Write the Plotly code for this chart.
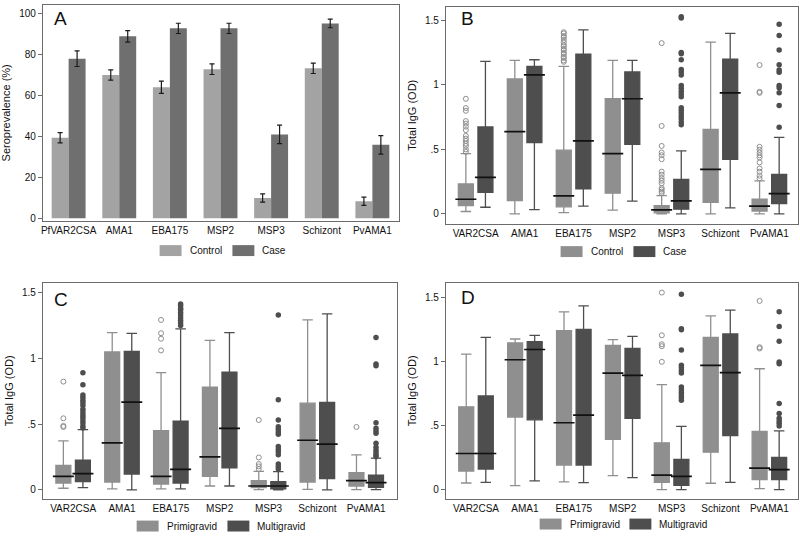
import plotly.graph_objects as go

W, H = 800, 537

# ---------------- data ----------------
antigens_A = ["PfVAR2CSA", "AMA1", "EBA175", "MSP2", "MSP3", "Schizont", "PvAMA1"]
antigens = ["VAR2CSA", "AMA1", "EBA175", "MSP2", "MSP3", "Schizont", "PvAMA1"]

# Panel A: seroprevalence (%) with 95% CI half-width
sero_control = [39.3, 69.9, 63.9, 72.7, 9.9, 73.1, 8.3]
sero_control_err = [2.5, 2.5, 3.0, 2.6, 2.0, 2.5, 2.0]
sero_case = [77.8, 88.7, 92.6, 92.6, 40.9, 95.0, 35.8]
sero_case_err = [3.8, 2.8, 2.5, 2.5, 4.5, 2.1, 4.5]

# Panel B: Control vs Case (Total IgG OD)
b_ctrl_lo = [0.018, 0.0, 0.010, 0.028, 0.0, 0.0, 0.0]
b_ctrl_q1 = [0.064, 0.103, 0.054, 0.160, 0.008, 0.090, 0.021]
b_ctrl_med = [0.113, 0.638, 0.139, 0.468, 0.031, 0.345, 0.059]
b_ctrl_q3 = [0.232, 1.047, 0.494, 0.893, 0.064, 0.656, 0.113]
b_ctrl_hi = [0.468, 1.191, 1.145, 1.191, 0.141, 1.333, 0.255]
b_ctrl_out = [
    [0.893, 0.821, 0.80, 0.72, 0.70, 0.677, 0.65, 0.605, 0.584, 0.566, 0.545, 0.527, 0.50, 0.481],
    [],
    [1.41, 1.40, 1.38, 1.37, 1.35, 1.33, 1.31, 1.30, 1.28, 1.27, 1.25, 1.24, 1.22, 1.21, 1.19, 1.18],
    [],
    [1.325, 0.682, 0.527, 0.476, 0.455, 0.424, 0.327, 0.304, 0.278, 0.257, 0.237, 0.20, 0.188, 0.172, 0.16],
    [],
    [1.155, 0.947, 0.939, 0.52, 0.497, 0.476, 0.455, 0.437, 0.399, 0.352, 0.327, 0.296, 0.275],
]
b_case_lo = [0.051, 0.033, 0.059, 0.098, 0.0, 0.046, 0.0]
b_case_q1 = [0.167, 0.553, 0.193, 0.540, 0.036, 0.422, 0.080]
b_case_med = [0.283, 1.078, 0.566, 0.893, 0.100, 0.939, 0.157]
b_case_q3 = [0.674, 1.145, 1.240, 1.101, 0.268, 1.201, 0.306]
b_case_hi = [1.183, 1.196, 1.428, 1.191, 0.489, 1.400, 0.594]
b_case_out = [
    [], [], [], [],
    [1.53, 1.52, 1.253, 1.243, 1.196, 1.12, 1.10, 1.078, 0.996, 0.975, 0.952, 0.931, 0.908,
     0.823, 0.803, 0.782, 0.759, 0.738, 0.713, 0.692],
    [],
    [1.472, 1.384, 1.271, 1.158, 1.117, 1.099, 0.996, 0.978, 0.939, 0.841, 0.671],
]

# Panel C: Primigravid vs Multigravid (controls)
c_pri_lo = [0.013, 0.008, 0.008, 0.030, 0.003, 0.005, 0.003]
c_pri_q1 = [0.053, 0.060, 0.045, 0.103, 0.018, 0.060, 0.030]
c_pri_med = [0.103, 0.358, 0.103, 0.252, 0.030, 0.378, 0.071]
c_pri_q3 = [0.187, 1.049, 0.451, 0.781, 0.071, 0.660, 0.131]
c_pri_hi = [0.373, 1.197, 0.892, 1.137, 0.141, 1.293, 0.267]
c_pri_out = [[0.824, 0.545, 0.487, 0.479], [], [1.293, 1.192, 1.15, 1.061], [],
             [0.532, 0.247, 0.197, 0.179, 0.159], [], [0.479]]
c_mul_lo = [0.018, 0.0, 0.008, 0.030, 0.0, 0.0, 0.003]
c_mul_q1 = [0.063, 0.121, 0.053, 0.169, 0.008, 0.086, 0.020]
c_mul_med = [0.124, 0.668, 0.156, 0.469, 0.030, 0.348, 0.055]
c_mul_q3 = [0.227, 1.054, 0.524, 0.895, 0.063, 0.665, 0.113]
c_mul_hi = [0.459, 1.190, 1.225, 1.197, 0.139, 1.339, 0.242]
c_mul_out = [
    [0.892, 0.80, 0.723, 0.703, 0.683, 0.663, 0.643, 0.613, 0.592, 0.572, 0.552, 0.532, 0.512, 0.487, 0.471],
    [],
    [1.414, 1.40, 1.38, 1.37, 1.35, 1.33, 1.31, 1.29, 1.27, 1.25],
    [],
    [1.331, 0.686, 0.532, 0.481, 0.461, 0.441, 0.423, 0.33, 0.31, 0.29, 0.267, 0.197, 0.179, 0.159],
    [],
    [1.16, 0.958, 0.945, 0.512, 0.469, 0.449, 0.431, 0.355, 0.325, 0.302, 0.282, 0.265, 0.252],
]

# Panel D: Primigravid vs Multigravid (cases)
d_pri_lo = [0.054, 0.034, 0.062, 0.111, 0.003, 0.052, 0.010]
d_pri_q1 = [0.147, 0.568, 0.194, 0.395, 0.059, 0.294, 0.080]
d_pri_med = [0.284, 1.015, 0.524, 0.911, 0.116, 0.971, 0.170]
d_pri_q3 = [0.648, 1.146, 1.242, 1.128, 0.367, 1.190, 0.457]
d_pri_hi = [1.059, 1.177, 1.389, 1.172, 0.821, 1.358, 0.945]
d_pri_out = [[], [], [], [], [1.539, 1.206, 1.136, 1.121, 0.999], [], [1.474, 1.113, 1.103]]
d_mul_lo = [0.059, 0.070, 0.057, 0.096, 0.003, 0.059, 0.003]
d_mul_q1 = [0.163, 0.547, 0.194, 0.558, 0.036, 0.423, 0.080]
d_mul_med = [0.284, 1.095, 0.584, 0.893, 0.106, 0.914, 0.158]
d_mul_q3 = [0.733, 1.157, 1.252, 1.103, 0.238, 1.216, 0.253]
d_mul_hi = [1.190, 1.206, 1.436, 1.198, 0.496, 1.402, 0.460]
d_mul_out = [
    [], [], [], [],
    [1.526, 1.257, 1.25, 1.092, 0.973, 0.953, 0.932, 0.911, 0.803, 0.782, 0.762, 0.741, 0.72, 0.70],
    [],
    [1.389, 1.275, 1.159, 0.997, 0.984, 0.674, 0.596, 0.558, 0.537, 0.519, 0.498],
]

# ---------------- style ----------------
FONT = "Liberation Sans, Arial, sans-serif"
BAR_LIGHT, BAR_DARK = "#a3a3a3", "#6f6f6f"
BOX_LIGHT, BOX_DARK = "#8f8f8f", "#4e4e4e"
FRAME = "#6b6b6b"
BOX_W = 0.306      # box width in category units
OFF = 0.2          # half distance between paired boxes
BOX_PX = 15        # median marker width in px

def px_x(x):
    return x / W

def px_y(y):
    return 1 - y / H

fig = go.Figure()
idx = list(range(len(antigens)))

# ---------- Panel A ----------
fig.add_trace(go.Bar(x=idx, y=sero_control, name="Control", marker_color=BAR_LIGHT,
                     marker_line_width=0, offsetgroup="ctrl",
                     error_y=dict(type="data", array=sero_control_err, color="#1a1a1a",
                                  thickness=1.2, width=2.5),
                     xaxis="x", yaxis="y", showlegend=False))
fig.add_trace(go.Bar(x=idx, y=sero_case, name="Case", marker_color=BAR_DARK,
                     marker_line_width=0, offsetgroup="case",
                     error_y=dict(type="data", array=sero_case_err, color="#1a1a1a",
                                  thickness=1.2, width=2.5),
                     xaxis="x", yaxis="y", showlegend=False))

# ---------- Box panels ----------
def add_boxes(ax, lo, q1, med, q3, hi, outs, color, sign, filled, name):
    xs = [i + sign * OFF for i in idx]
    fig.add_trace(go.Box(x=xs, q1=q1, median=med, q3=q3, lowerfence=lo, upperfence=hi,
                         width=BOX_W, whiskerwidth=0.7, fillcolor=color,
                         line=dict(color=color, width=1.3), boxpoints=False,
                         name=name, xaxis="x" + ax, yaxis="y" + ax, showlegend=False,
                         hoverinfo="skip"))
    fig.add_trace(go.Scatter(x=xs, y=med, mode="markers", xaxis="x" + ax, yaxis="y" + ax,
                             marker=dict(symbol="line-ew", size=BOX_PX,
                                         line=dict(width=1.7, color="#111111")),
                             showlegend=False, hoverinfo="skip"))
    ox, oy = [], []
    for i, vals in enumerate(outs):
        for v in vals:
            ox.append(i + sign * OFF)
            oy.append(v)
    if filled:
        mk = dict(symbol="circle", size=5.5, color=color)
    else:
        mk = dict(symbol="circle-open", size=5, color=color, line=dict(width=1))
    fig.add_trace(go.Scatter(x=ox, y=oy, mode="markers", marker=mk,
                             xaxis="x" + ax, yaxis="y" + ax, showlegend=False,
                             hoverinfo="skip"))

add_boxes("2", b_ctrl_lo, b_ctrl_q1, b_ctrl_med, b_ctrl_q3, b_ctrl_hi, b_ctrl_out, BOX_LIGHT, -1, False, "Control")
add_boxes("2", b_case_lo, b_case_q1, b_case_med, b_case_q3, b_case_hi, b_case_out, BOX_DARK, 1, True, "Case")
add_boxes("3", c_pri_lo, c_pri_q1, c_pri_med, c_pri_q3, c_pri_hi, c_pri_out, BOX_LIGHT, -1, False, "Primigravid")
add_boxes("3", c_mul_lo, c_mul_q1, c_mul_med, c_mul_q3, c_mul_hi, c_mul_out, BOX_DARK, 1, True, "Multigravid")
add_boxes("4", d_pri_lo, d_pri_q1, d_pri_med, d_pri_q3, d_pri_hi, d_pri_out, BOX_LIGHT, -1, False, "Primigravid")
add_boxes("4", d_mul_lo, d_mul_q1, d_mul_med, d_mul_q3, d_mul_hi, d_mul_out, BOX_DARK, 1, True, "Multigravid")

# ---------- axes ----------
panels = {
    "": dict(x=(41, 398), y=(5, 222), xr=[-0.508, 6.526], yr=[-1.2, 104],
             labels=antigens_A, yt=[0, 20, 40, 60, 80, 100], ytt=["0", "20", "40", "60", "80", "100"],
             title="Seroprevalence (%)"),
    "2": dict(x=(445, 798), y=(6.7, 225), xr=[-0.608, 6.585], yr=[-0.077, 1.608],
              labels=antigens, yt=[0, 0.5, 1, 1.5], ytt=["0", ".5", "1", "1.5"], title="Total IgG (OD)"),
    "3": dict(x=(41, 396), y=(284.3, 501.7), xr=[-0.619, 6.63], yr=[-0.068, 1.576],
              labels=antigens, yt=[0, 0.5, 1, 1.5], ytt=["0", ".5", "1", "1.5"], title="Total IgG (OD)"),
    "4": dict(x=(445, 798), y=(284.3, 501.7), xr=[-0.616, 6.585], yr=[-0.07, 1.616],
              labels=antigens, yt=[0, 0.5, 1, 1.5], ytt=["0", ".5", "1", "1.5"], title="Total IgG (OD)"),
}
layout = {}
for k, p in panels.items():
    layout["xaxis" + k] = dict(domain=[px_x(p["x"][0]), px_x(p["x"][1])], anchor="y" + k,
                               range=p["xr"], tickvals=idx, ticktext=p["labels"], ticks="",
                               showgrid=False, zeroline=False, showline=True, mirror=True,
                               linecolor=FRAME, linewidth=1,
                               tickfont=dict(family=FONT, size=10, color="#111111"))
    layout["yaxis" + k] = dict(domain=[px_y(p["y"][1]), px_y(p["y"][0])], anchor="x" + k,
                               range=p["yr"], tickvals=p["yt"], ticktext=p["ytt"],
                               ticks="outside", ticklen=4, tickcolor=FRAME, tickwidth=1,
                               showgrid=False, zeroline=False, showline=True, mirror=True,
                               linecolor=FRAME, linewidth=1,
                               tickfont=dict(family=FONT, size=10, color="#111111"),
                               title=dict(text=p["title"], standoff=6,
                                          font=dict(family=FONT, size=11, color="#111111")))

# ---------- panel letters ----------
annotations = []
for letter, (lx, ly) in {"A": (50, 6), "B": (458, 6), "C": (50, 289), "D": (458, 287)}.items():
    annotations.append(dict(text=letter, x=px_x(lx), y=px_y(ly), xref="paper", yref="paper",
                            xanchor="left", yanchor="top", showarrow=False,
                            font=dict(family=FONT, size=19, color="#111111")))

# ---------- legends (swatch + label) ----------
shapes = []
legend_items = [
    (158, 252, BAR_LIGHT, "Control"), (231, 252, BAR_DARK, "Case"),
    (560, 253, BOX_LIGHT, "Control"), (633, 253, BOX_DARK, "Case"),
    (135, 529, BOX_LIGHT, "Primigravid"), (226, 529, BOX_DARK, "Multigravid"),
    (539, 527, BOX_LIGHT, "Primigravid"), (629, 527, BOX_DARK, "Multigravid"),
]
for sx, sy, col, lab in legend_items:
    shapes.append(dict(type="rect", xref="paper", yref="paper",
                       x0=px_x(sx), x1=px_x(sx + 22), y0=px_y(sy + 5.5), y1=px_y(sy - 5.5),
                       fillcolor=col, line=dict(width=0)))
    annotations.append(dict(text=lab, x=px_x(sx + 28), y=px_y(sy), xref="paper", yref="paper",
                            xanchor="left", yanchor="middle", showarrow=False,
                            font=dict(family=FONT, size=10, color="#111111")))

fig.update_layout(
    width=W, height=H, margin=dict(l=0, r=0, t=0, b=0),
    paper_bgcolor="white", plot_bgcolor="white",
    barmode="group", bargap=0.33, bargroupgap=0,
    font=dict(family=FONT, size=10, color="#111111"),
    annotations=annotations, shapes=shapes, showlegend=False,
    hovermode=False,
    **layout,
)

fig.write_html("out.html", config={"displayModeBar": False, "staticPlot": True},
               post_script="document.body.style.margin='0';document.body.style.overflow='hidden';")
